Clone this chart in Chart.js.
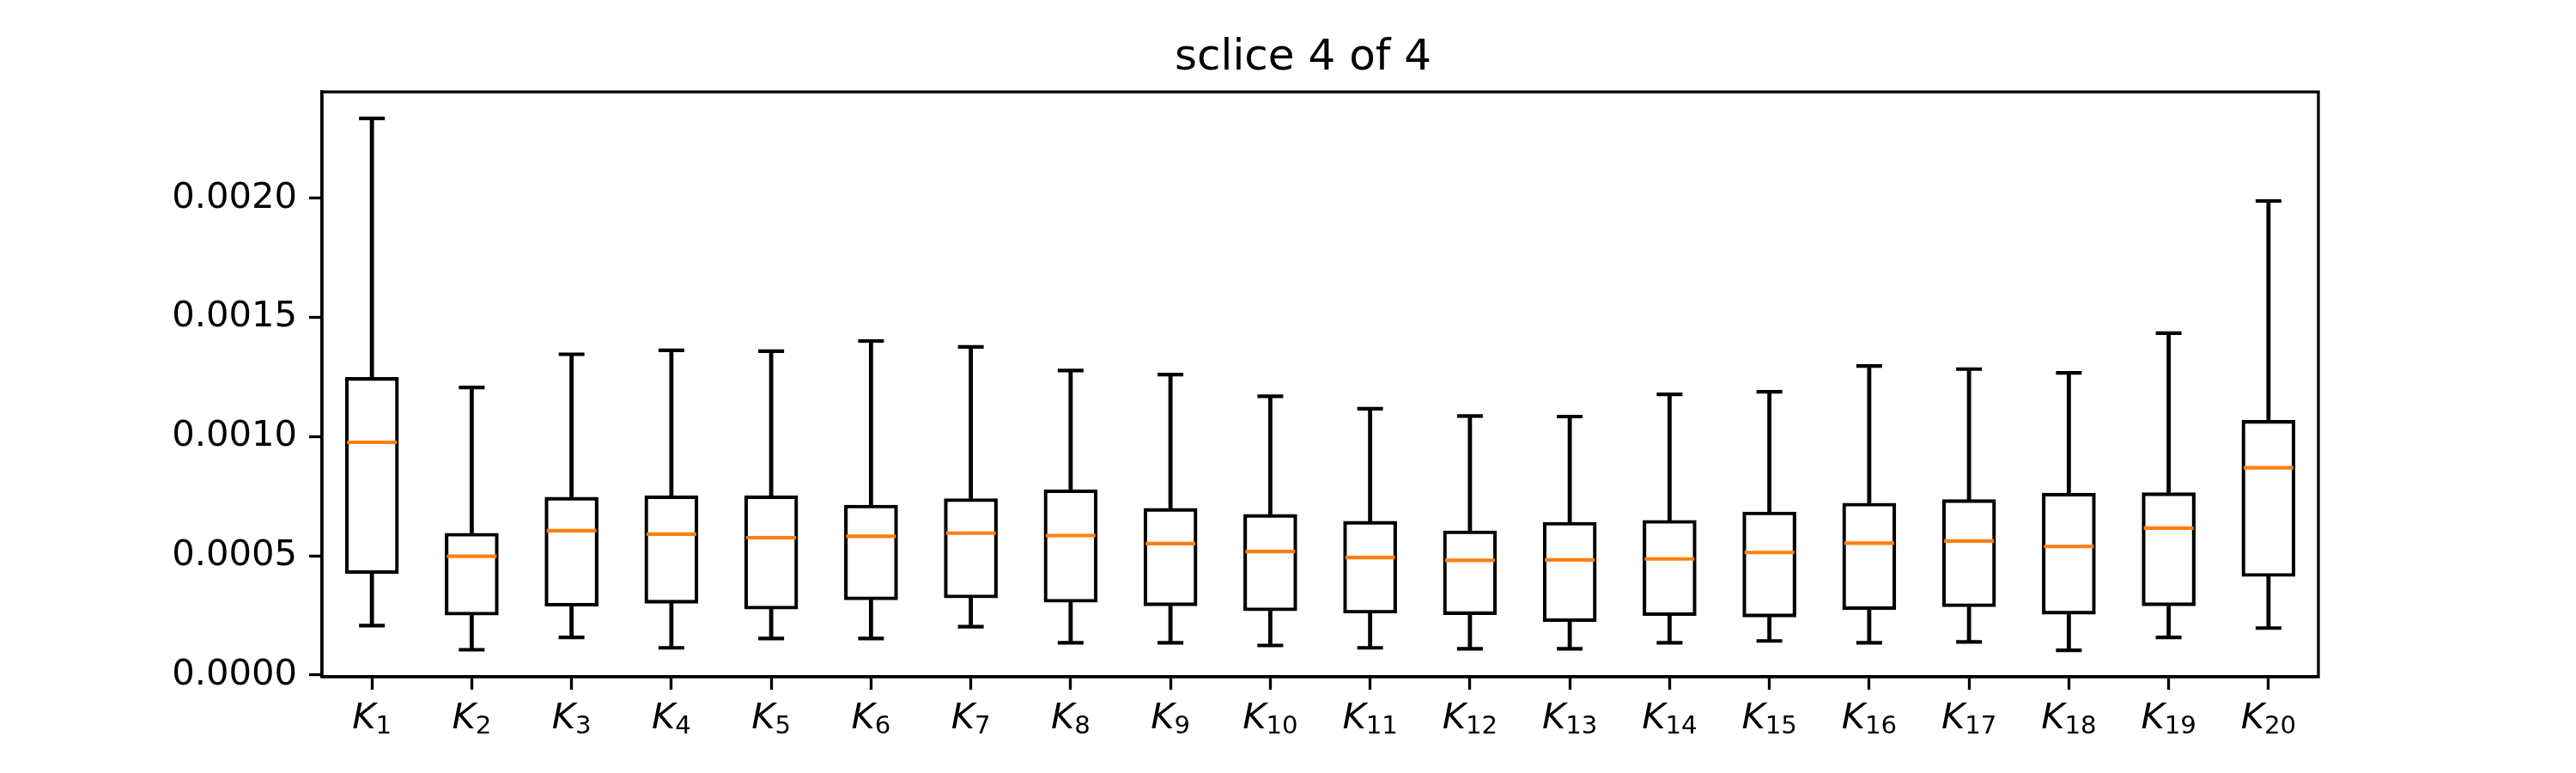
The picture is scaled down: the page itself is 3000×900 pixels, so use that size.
<!DOCTYPE html>
<html>
<head>
<meta charset="utf-8">
<script src="https://cdn.jsdelivr.net/npm/chart.js@4.4.1/dist/chart.umd.min.js"></script>
<style>
  body { margin: 0; background: #fff; }
  #wrap { width: 3000px; height: 900px; }
</style>
</head>
<body>
<div id="wrap"><canvas id="BoxChart"></canvas></div>
<script>
// K1..K20
const categories = ['K1','K2','K3','K4','K5','K6','K7','K8','K9','K10',
                    'K11','K12','K13','K14','K15','K16','K17','K18','K19','K20'];
const whiskerLow  = [0.000207,0.000106,0.000158,0.000114,0.000153,0.000153,0.000203,0.000135,0.000135,0.000124,
                     0.000114,0.000110,0.000110,0.000135,0.000143,0.000135,0.000139,0.000104,0.000158,0.000197];
const q1          = [0.000425,0.000251,0.000288,0.000301,0.000276,0.000315,0.000323,0.000305,0.000290,0.000269,
                     0.000259,0.000253,0.000224,0.000249,0.000243,0.000274,0.000286,0.000255,0.000290,0.000413];
const medians     = [0.000976,0.000498,0.000605,0.000591,0.000576,0.000582,0.000595,0.000585,0.000551,0.000518,
                     0.000493,0.000481,0.000483,0.000487,0.000514,0.000553,0.000562,0.000539,0.000616,0.000869];
const q3          = [0.001248,0.000595,0.000746,0.000752,0.000752,0.000713,0.000740,0.000777,0.000699,0.000674,
                     0.000645,0.000605,0.000641,0.000649,0.000684,0.000721,0.000736,0.000763,0.000765,0.001068];
const whiskerHigh = [0.002334,0.001206,0.001345,0.001362,0.001358,0.001401,0.001376,0.001277,0.001260,0.001169,
                     0.001117,0.001086,0.001084,0.001177,0.001188,0.001296,0.001283,0.001267,0.001434,0.001988];
const yTicks = [0, 0.0005, 0.0010, 0.0015, 0.0020];
const yTickLabels = ['0.0000', '0.0005', '0.0010', '0.0015', '0.0020'];
const yMin = -0.0000075;
const yMax = 0.0024455;

const FONT = "'DejaVu Sans', 'Liberation Sans', sans-serif";
const LW = 4.17;      // 1pt at 300 dpi
const SPINE = 3.33;   // 0.8pt

// top + right spines (Chart.js only draws the axis borders)
const frame = {
  id: 'frame',
  afterLayout(chart) {
    // title in the reference sits a bit left of the axes centre
    if (chart.titleBlock) {
      chart.titleBlock.left = chart.chartArea.left - 40;
      chart.titleBlock.right = chart.chartArea.right;
    }
  },
  afterDraw(chart) {
    const {ctx, chartArea: a} = chart;
    ctx.save();
    ctx.strokeStyle = '#000';
    ctx.lineWidth = SPINE;
    ctx.strokeRect(a.left, a.top, a.right - a.left, a.bottom - a.top);
    ctx.restore();
  }
};

// x labels as K with a subscript index
const kLabels = {
  id: 'kLabels',
  afterDraw(chart) {
    const ctx = chart.ctx;
    const x = chart.scales.x;
    const base = 848;
    ctx.save();
    ctx.fillStyle = '#000';
    ctx.textBaseline = 'alphabetic';
    ctx.textAlign = 'left';
    categories.forEach((c, i) => {
      const letter = c.charAt(0);
      const sub = c.slice(1);
      ctx.font = 'italic 41.7px ' + FONT;
      const wK = ctx.measureText(letter).width;
      ctx.font = '29.2px ' + FONT;
      const wS = ctx.measureText(sub).width;
      const px = x.getPixelForValue(i);
      const left = px - (wK + wS) / 2;
      ctx.font = 'italic 41.7px ' + FONT;
      ctx.fillText(letter, left, base);
      ctx.font = '29.2px ' + FONT;
      ctx.fillText(sub, left + wK, base + 6);
    });
    ctx.restore();
  }
};

const ctx = document.getElementById('BoxChart');

new Chart(ctx, {
  type: 'bar',
  data: {
    labels: categories,
    datasets: [
      {
        label: 'box',
        data: categories.map((c, i) => [q1[i], q3[i]]),
        backgroundColor: '#fff',
        borderColor: '#000',
        borderWidth: LW,
        borderSkipped: false,
        barThickness: 62,
        grouped: false,
        order: 3
      },
      {
        label: 'lower whisker',
        data: categories.map((c, i) => [whiskerLow[i], q1[i]]),
        backgroundColor: '#000',
        borderWidth: 0,
        barThickness: LW,
        grouped: false,
        order: 4
      },
      {
        label: 'upper whisker',
        data: categories.map((c, i) => [q3[i], whiskerHigh[i]]),
        backgroundColor: '#000',
        borderWidth: 0,
        barThickness: LW,
        grouped: false,
        order: 4
      },
      {
        type: 'line',
        label: 'low cap',
        data: whiskerLow,
        showLine: false,
        pointStyle: 'line',
        pointRadius: 15,
        pointBorderWidth: LW,
        pointBorderColor: '#000',
        order: 2
      },
      {
        type: 'line',
        label: 'high cap',
        data: whiskerHigh,
        showLine: false,
        pointStyle: 'line',
        pointRadius: 15,
        pointBorderWidth: LW,
        pointBorderColor: '#000',
        order: 2
      },
      {
        type: 'line',
        label: 'median',
        data: medians,
        showLine: false,
        pointStyle: 'line',
        pointRadius: 29,
        pointBorderWidth: LW,
        pointBorderColor: '#ff7f0e',
        order: 0
      }
    ]
  },
  options: {
    responsive: true,
    maintainAspectRatio: false,
    devicePixelRatio: 1,
    animation: false,
    events: [],
    layout: { padding: { left: 0, right: 300, top: 0, bottom: 0 } },
    plugins: {
      legend: { display: false },
      tooltip: { enabled: false },
      title: {
        display: true,
        fullSize: false,
        text: 'sclice 4 of 4',
        color: '#000',
        font: { family: FONT, size: 50, weight: 'normal', lineHeight: 1.2 },
        padding: { top: 38, bottom: 9 }
      }
    },
    scales: {
      x: {
        offset: true,
        grid: {
          offset: false,
          drawOnChartArea: false,
          drawTicks: true,
          tickLength: 15,
          tickWidth: SPINE,
          tickColor: '#000'
        },
        border: { display: true, color: '#000', width: SPINE },
        ticks: { display: false },
        afterFit(scale) { scale.height = 112; }
      },
      y: {
        min: yMin,
        max: yMax,
        grid: {
          drawOnChartArea: false,
          drawTicks: true,
          tickLength: 15,
          tickWidth: SPINE,
          tickColor: '#000'
        },
        border: { display: true, color: '#000', width: SPINE },
        afterBuildTicks(scale) { scale.ticks = yTicks.map(v => ({ value: v })); },
        ticks: {
          color: '#000',
          padding: 14,
          font: { family: FONT, size: 41.7 },
          callback: (v, i) => yTickLabels[i]
        },
        afterFit(scale) { scale.width = 375; }
      }
    }
  },
  plugins: [frame, kLabels]
});
</script>
</body>
</html>
